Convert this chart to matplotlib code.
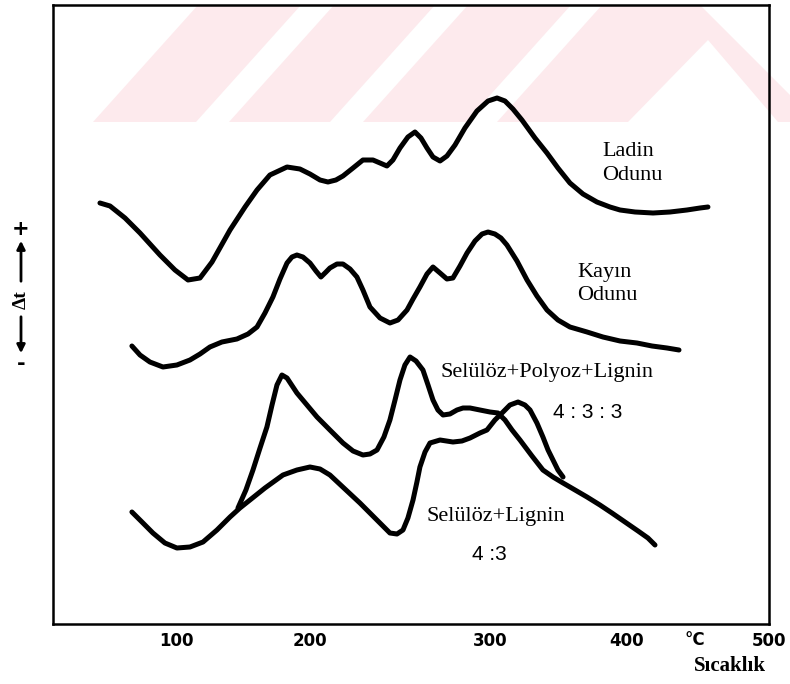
import matplotlib
matplotlib.use('Agg')
import matplotlib.pyplot as plt
from matplotlib.patches import Polygon

# --- data (temperature in °C, dt in arbitrary units) ---
ladin_t = [50, 56.7, 66.7, 76.7, 90, 100, 108.7, 116.7, 124.7, 136.7, 146.7, 154.7, 163.3, 174.7, 183.3,
           190, 196.7, 202, 207.3, 212, 218.7, 225.3, 232, 236.7, 241.3, 245.3, 250, 255.3, 260, 264,
           268, 272, 276.7, 281.3, 286.7, 293.3, 301.3, 308.7, 314.7, 320, 325.3, 331.3, 340, 348, 355.3,
           363.3, 372, 381.3, 390, 396.7, 406.7, 418.7, 430, 441.3, 450, 455.3]
ladin_dt = [421, 418, 406, 391, 369, 354, 344, 346, 362, 394, 417, 434, 449, 457, 455,
            450, 444, 442, 444, 448, 456, 464, 464, 461, 458, 464, 476, 487, 492, 486,
            476, 467, 463, 468, 479, 496, 513, 523, 526, 523, 515, 504, 486, 471, 456,
            441, 430, 422, 417, 414, 412, 411, 412, 414, 416, 417]

kayin_t = [71.3, 76.7, 83.3, 92, 101.3, 110, 116.7, 123.3, 131.3, 141.3, 148.7, 154.7, 160, 165.3, 170,
           174.7, 178, 181.3, 185.3, 190, 194, 197.3, 200.7, 203.3, 208, 212, 216.7, 221.3, 225.3, 230,
           236.7, 243.3, 248.7, 254.7, 258.7, 263.3, 268, 272, 276.7, 281.3, 285.3, 290, 294.7, 300, 304.7,
           308.7, 313.3, 317.3, 321.3, 328, 334.7, 341.3, 348, 355.3, 363.3, 374.7, 385.3, 396.7, 408, 418,
           428, 436]
kayin_dt = [278, 269, 262, 257, 259, 264, 270, 277, 282, 285, 290, 297, 311, 327, 345,
            361, 367, 369, 367, 361, 353, 347, 352, 356, 360, 360, 355, 347, 334, 317,
            306, 301, 304, 314, 325, 337, 350, 357, 351, 345, 346, 358, 371, 383, 390,
            392, 390, 386, 379, 363, 344, 328, 314, 304, 297, 292, 287, 283, 281, 278,
            276, 274]

# Selülöz+Polyoz+Lignin 4:3:3
spl_t = [142, 147.3, 152, 156.7, 161.3, 164.7, 168, 171.3, 174.7, 181.3, 188, 194.7, 203.3, 212, 218.7,
         225.3, 230, 234.7, 239.3, 243.3, 246.7, 250, 253.3, 256.7, 260.7, 265.3, 268.7, 272, 275.3, 278.7,
         283.3, 288, 292, 296.7, 303.3, 310, 315.3, 320, 324.7, 330, 338, 345.3, 352, 358.7, 366.7,
         374.7, 383.3, 391.3, 400, 408.7, 415.3, 420]
spl_dt = [116, 134, 154, 176, 197, 219, 239, 249, 246, 231, 219, 207, 194, 181, 173,
          169, 170, 174, 187, 204, 224, 244, 259, 267, 263, 254, 239, 224, 214, 209,
          210, 214, 216, 216, 214, 212, 211, 204, 194, 184, 168, 154, 147, 141, 134,
          127, 119, 111, 102, 93, 86, 79]

# Selülöz+Lignin 4:3
sl_t = [71.3, 78, 85.3, 93.3, 101.3, 110, 118.7, 128, 136.7, 143.3, 150, 160, 172, 181.3, 190,
        196.7, 203.3, 213.3, 223.3, 233.3, 243.3, 248, 252, 255.3, 258.7, 261.3, 263.3, 266.7, 270, 276.7,
        285.3, 291.3, 296.7, 303.3, 308, 313.3, 318.7, 323.3, 328.7, 333.3, 336.7, 341.3, 345.3, 348.7, 352,
        355.3, 358.7]
sl_dt = [112, 102, 91, 81, 76, 77, 82, 94, 107, 116, 124, 136, 149, 154, 157,
         155, 149, 135, 121, 106, 91, 90, 94, 106, 124, 142, 157, 172, 181, 184,
         182, 183, 186, 191, 194, 204, 212, 219, 222, 219, 214, 201, 187, 174, 164,
         154, 147]

tick_pos = [100.7, 190, 310, 401.3, 496]
tick_labels = ['100', '200', '300', '400', '500']

W, H = 790, 684


def fpx(x, y):
    # image pixel -> figure fraction
    return (x / W, 1 - y / H)


fig = plt.figure(figsize=(W / 100, H / 100), dpi=100)
ax = fig.add_axes([53 / W, 1 - 624 / H, 716 / W, 619 / H])
ax.set_facecolor('none')

# faint watermark stripes behind the plot
wm_shapes = [
    [(93, 122), (198, 5), (301, 5), (196, 122)],
    [(229, 122), (334, 5), (435, 5), (330, 122)],
    [(363, 122), (468, 5), (571, 5), (466, 122)],
    [(497, 122), (602, 5), (700, 5), (790, 95), (790, 122), (778, 122), (708, 40), (628, 122)],
]
for shp in wm_shapes:
    fig.add_artist(Polygon([fpx(x, y) for x, y in shp], closed=True, facecolor='#fdeaed',
                           edgecolor='none', transform=fig.transFigure, zorder=-1))

for t, dt in [(ladin_t, ladin_dt), (kayin_t, kayin_dt), (spl_t, spl_dt), (sl_t, sl_dt)]:
    ax.plot(t, dt, color='black', linewidth=3.6, solid_joinstyle='round', solid_capstyle='round')

ax.set_xlim(18.7, 496)
ax.set_ylim(0, 619)
ax.set_xticks(tick_pos, tick_labels, fontsize=12, fontweight='bold', family='DejaVu Sans')
ax.tick_params(axis='x', length=0, pad=6)
ax.set_yticks([])
for sp in ax.spines.values():
    sp.set_linewidth(1.8)

serif = 'Liberation Serif'
fig.text(*fpx(602, 151), 'Ladin', fontsize=16, family=serif, va='center')
fig.text(*fpx(602, 176), 'Odunu', fontsize=16, family=serif, va='center')
fig.text(*fpx(577, 273), 'Kayın', fontsize=16, family=serif, va='center')
fig.text(*fpx(577, 296), 'Odunu', fontsize=16, family=serif, va='center')
fig.text(*fpx(441, 372), 'Selülöz+Polyoz+Lignin', fontsize=16, family=serif, va='center')
fig.text(*fpx(553, 413), '4 : 3 : 3', fontsize=15, family='Liberation Sans', va='center')
fig.text(*fpx(427, 517), 'Selülöz+Lignin', fontsize=16, family=serif, va='center')
fig.text(*fpx(472, 554), '4 :3', fontsize=15, family='Liberation Sans', va='center')

# x-axis unit and title
fig.text(*fpx(695, 640), '°C', fontsize=12, fontweight='bold', ha='center', va='center')
fig.text(*fpx(730, 666), 'Sıcaklık', fontsize=15, family=serif, fontweight='bold',
         ha='center', va='center')

# y-axis label:  -  <-- dt -->  +
fig.text(*fpx(21, 229), '+', fontsize=15, fontweight='bold', ha='center', va='center')
fig.text(*fpx(21, 364), '-', fontsize=15, fontweight='bold', ha='center', va='center')
fig.text(*fpx(21, 300), 'Δt', fontsize=14, family=serif, fontweight='bold', rotation=90,
         ha='center', va='center')
ax.annotate('', xy=fpx(21, 238), xytext=fpx(21, 284), xycoords='figure fraction',
            arrowprops=dict(arrowstyle='-|>', lw=2, color='black', mutation_scale=12))
ax.annotate('', xy=fpx(21, 356), xytext=fpx(21, 314), xycoords='figure fraction',
            arrowprops=dict(arrowstyle='-|>', lw=2, color='black', mutation_scale=12))

fig.savefig('out.png', dpi=100)
